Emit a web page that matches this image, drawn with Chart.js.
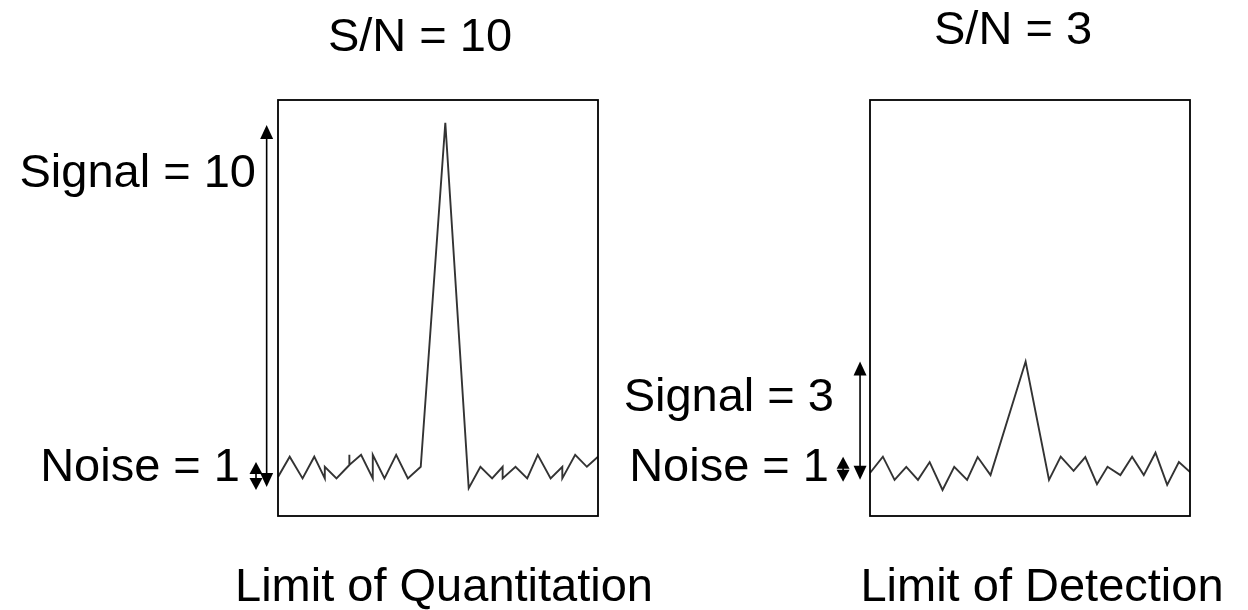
<!DOCTYPE html>
<html>
<head>
<meta charset="utf-8">
<script src="https://cdn.jsdelivr.net/npm/chart.js@4.4.1/dist/chart.umd.min.js"></script>
<style>
html,body{margin:0;padding:0;background:#fff;}
#izq{position:absolute;left:0;top:0;width:700px;height:610px;}
#der{position:absolute;left:600px;top:0;width:648px;height:610px;}
</style>
</head>
<body>
<div id="izq"><canvas id="graficoLOQ"></canvas></div>
<div id="der"><canvas id="graficoLOD"></canvas></div>
<script>
/* DATOS */
const loqX = [0,1.0,2.1,3.1,4.0,4.0,5.0,6.1,6.1,6.1,7.1,8.1,8.1,9.1,10.1,11.1,12.2,14.3,16.3,17.3,18.3,19.2,19.2,20.3,21.3,22.2,23.3,24.3,24.3,25.4,26.4,27.35];
const loqY = [1.08,1.64,1.04,1.64,1.04,1.36,1.04,1.41,1.69,1.41,1.69,1.04,1.69,1.04,1.69,1.04,1.36,10.87,0.77,1.36,1.04,1.36,1.04,1.36,1.04,1.69,1.04,1.36,1.04,1.69,1.36,1.64];

const lodX = [0,1.1,2.1,3.1,4.1,5.1,6.2,7.2,8.3,9.2,10.3,13.3,15.3,16.3,17.4,18.4,19.4,20.3,21.4,22.4,23.4,24.4,25.4,26.4,27.44];
const lodY = [1.19,1.64,1.0,1.36,1.0,1.49,0.72,1.36,1.0,1.63,1.13,4.27,1.0,1.64,1.25,1.63,0.88,1.36,1.13,1.64,1.13,1.75,0.86,1.49,1.19];

// flechas: [x, desde, hasta]
const loqSenal = [-0.97, 0.80, 10.81];
const loqRuido = [-1.88, 0.72, 1.49];
const lodSenal = [-0.85, 1.00, 4.27];
const lodRuido = [-2.30, 0.95, 1.64];

const titulos = ["S/N = 10", "S/N = 3"];
const etiquetasSenal = ["Signal = 10", "Signal = 3"];
const etiquetaRuido = "Noise = 1";
const pies = ["Limit of Quantitation", "Limit of Detection"];

const FUENTE = '47px "Liberation Sans", Arial, sans-serif';

function flecha(ctx, x, y1, y2, w, h){
  ctx.beginPath();
  ctx.moveTo(x, y1 + h - 1);
  ctx.lineTo(x, y2 - h + 1);
  ctx.stroke();
  ctx.beginPath();
  ctx.moveTo(x, y2);
  ctx.lineTo(x - w/2, y2 - h);
  ctx.lineTo(x + w/2, y2 - h);
  ctx.closePath();
  ctx.fill();
  ctx.beginPath();
  ctx.moveTo(x, y1);
  ctx.lineTo(x - w/2, y1 + h);
  ctx.lineTo(x + w/2, y1 + h);
  ctx.closePath();
  ctx.fill();
}

const marcas = {
  id:"marcas",
  afterDraw(chart, args, opts){
    const ctx = chart.ctx;
    const a = chart.chartArea;
    const sx = chart.scales.x;
    const sy = chart.scales.y;
    ctx.save();
    ctx.strokeStyle = "#000";
    ctx.fillStyle = "#000";
    ctx.lineWidth = 1.8;
    ctx.strokeRect(a.left, a.top, a.right - a.left, a.bottom - a.top);

    ctx.lineWidth = 1.6;
    const s = opts.senal;
    flecha(ctx, sx.getPixelForValue(s[0]), sy.getPixelForValue(s[2]), sy.getPixelForValue(s[1]), 13, 14);
    const r = opts.ruido;
    flecha(ctx, sx.getPixelForValue(r[0]), sy.getPixelForValue(r[2]), sy.getPixelForValue(r[1]), 13, 12);

    ctx.font = FUENTE;
    ctx.textBaseline = "alphabetic";
    opts.textos.forEach(function(t){
      ctx.textAlign = t.align;
      ctx.fillText(t.texto, t.x, t.y);
    });
    ctx.restore();
  }
};

function opciones(padding, senal, ruido, textos){
  return {
    responsive:true,
    maintainAspectRatio:false,
    animation:false,
    layout:{padding:padding},
    plugins:{
      legend:{display:false},
      tooltip:{enabled:false},
      marcas:{senal:senal, ruido:ruido, textos:textos}
    },
    scales:{
      x:{type:"linear", min:0, max:27.35, display:false},
      y:{type:"linear", min:0, max:11.5, display:false}
    }
  };
}

function serie(xs, ys){
  return xs.map(function(x, i){ return {x:x, y:ys[i]}; });
}

new Chart(document.getElementById("graficoLOQ"),{
  type:"line",
  data:{
    datasets:[{
      data:serie(loqX, loqY),
      borderColor:"#333",
      borderWidth:1.9,
      pointRadius:0,
      tension:0
    }]
  },
  options:opciones({left:278, right:102, top:100, bottom:94}, loqSenal, loqRuido, [
    {texto:titulos[0], x:420, y:51, align:"center"},
    {texto:etiquetasSenal[0], x:256, y:187, align:"right"},
    {texto:etiquetaRuido, x:240, y:481, align:"right"},
    {texto:pies[0], x:444, y:601, align:"center"}
  ]),
  plugins:[marcas]
});

new Chart(document.getElementById("graficoLOD"),{
  type:"line",
  data:{
    datasets:[{
      data:serie(lodX, lodY),
      borderColor:"#333",
      borderWidth:1.9,
      pointRadius:0,
      tension:0
    }]
  },
  options:opciones({left:270, right:58, top:100, bottom:94}, lodSenal, lodRuido, [
    {texto:titulos[1], x:413, y:44, align:"center"},
    {texto:etiquetasSenal[1], x:234, y:411, align:"right"},
    {texto:etiquetaRuido, x:229, y:481, align:"right"},
    {texto:pies[1], x:442, y:601, align:"center"}
  ]),
  plugins:[marcas]
});
</script>
</body>
</html>
